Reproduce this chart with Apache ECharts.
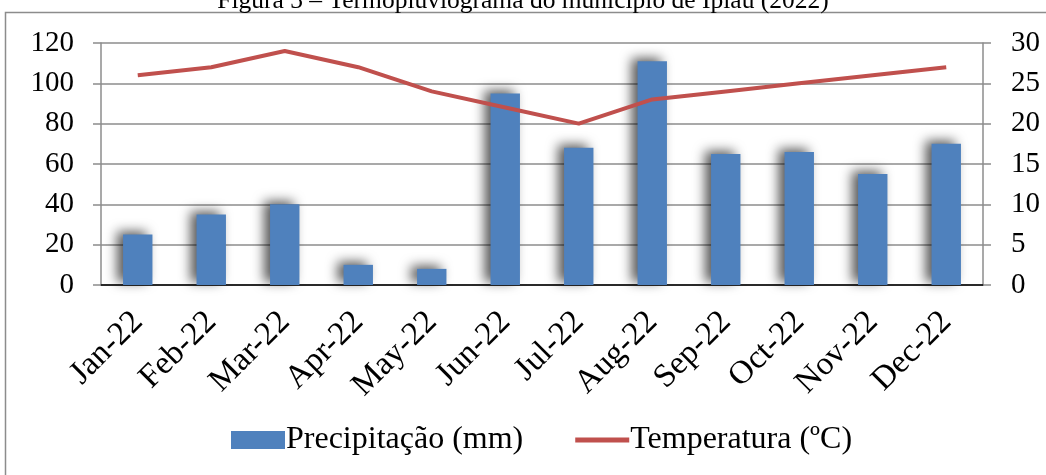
<!DOCTYPE html>
<html>
<head>
<meta charset="utf-8">
<script src="https://cdn.jsdelivr.net/npm/echarts@6/dist/echarts.min.js"></script>
<style>
  html, body { margin: 0; padding: 0; background: #fff; }
  #chart { width: 1046px; height: 475px; }
</style>
</head>
<body>
<div id="chart"></div>
<script>
  // dados do termopluviograma
  var months = ['Jan-22', 'Feb-22', 'Mar-22', 'Apr-22', 'May-22', 'Jun-22', 'Jul-22', 'Aug-22', 'Sep-22', 'Oct-22', 'Nov-22', 'Dec-22'];
  var precipitacao = [25, 35, 40, 10, 8, 95, 68, 111, 65, 66, 55, 70];
  var temperatura = [26, 27, 29, 27, 24, 22, 20, 23, 24, 25, 26, 27];

  var font = '"Liberation Serif", "Times New Roman", serif';
  var myChart = echarts.init(document.getElementById('chart'));

  var option = {
    animation: false,
    textStyle: { fontFamily: font },
    title: {
      text: 'Figura 3 – Termopluviograma do município de Ipiaú (2022)',
      left: 'center',
      top: -17,
      textStyle: { fontFamily: font, fontSize: 25.5, fontWeight: 'normal', color: '#000' }
    },
    graphic: [{
      type: 'rect',
      shape: { x: 5.5, y: 12.5, width: 1060, height: 480 },
      style: { fill: 'none', stroke: '#8c8c8c', lineWidth: 1.5 },
      z: -1
    }],
    legend: {
      bottom: 14,
      left: 226,
      itemGap: 52,
      itemWidth: 54,
      itemHeight: 18,
      textStyle: { fontFamily: font, fontSize: 32, color: '#000', padding: [0, 0, 0, -4] },
      data: [
        { name: 'Precipitação (mm)', icon: 'rect' },
        { name: 'Temperatura (ºC)', icon: 'path://M0,0 L54,0 L54,5 L0,5 Z' }
      ]
    },
    grid: { left: 101, right: 63, top: 43, bottom: 190 },
    xAxis: {
      type: 'category',
      data: months,
      axisLine: { lineStyle: { color: '#000', width: 1.5 } },
      axisTick: { length: 8, lineStyle: { color: '#000', width: 1.5 } },
      axisLabel: { rotate: 45, fontSize: 33, color: '#000', fontFamily: font, margin: 32 }
    },
    yAxis: [{
      type: 'value',
      min: 0, max: 120, interval: 20,
      axisLine: { show: true, lineStyle: { color: '#8c8c8c', width: 1.5 } },
      axisTick: { show: true, length: 8, lineStyle: { color: '#8c8c8c', width: 1.5 } },
      splitLine: { lineStyle: { color: '#8c8c8c', width: 1.5 } },
      axisLabel: { fontSize: 29, color: '#000', fontFamily: font, margin: 27 }
    }, {
      type: 'value',
      min: 0, max: 30, interval: 5,
      axisLine: { show: true, lineStyle: { color: '#8c8c8c', width: 1.5 } },
      axisTick: { show: true, length: 8, lineStyle: { color: '#8c8c8c', width: 1.5 } },
      splitLine: { show: false },
      axisLabel: { fontSize: 29, color: '#000', fontFamily: font, margin: 28 }
    }],
    series: [{
      name: 'Precipitação (mm)',
      type: 'bar',
      barWidth: '40%',
      data: precipitacao,
      itemStyle: {
        color: '#4f81bd',
        shadowColor: 'rgba(0,0,0,0.65)',
        shadowBlur: 12,
        shadowOffsetX: -6,
        shadowOffsetY: -3
      }
    }, {
      name: 'Temperatura (ºC)',
      type: 'line',
      yAxisIndex: 1,
      data: temperatura,
      symbol: 'none',
      lineStyle: { color: '#c0504d', width: 4 },
      itemStyle: { color: '#c0504d' }
    }]
  };

  myChart.setOption(option);
</script>
</body>
</html>
